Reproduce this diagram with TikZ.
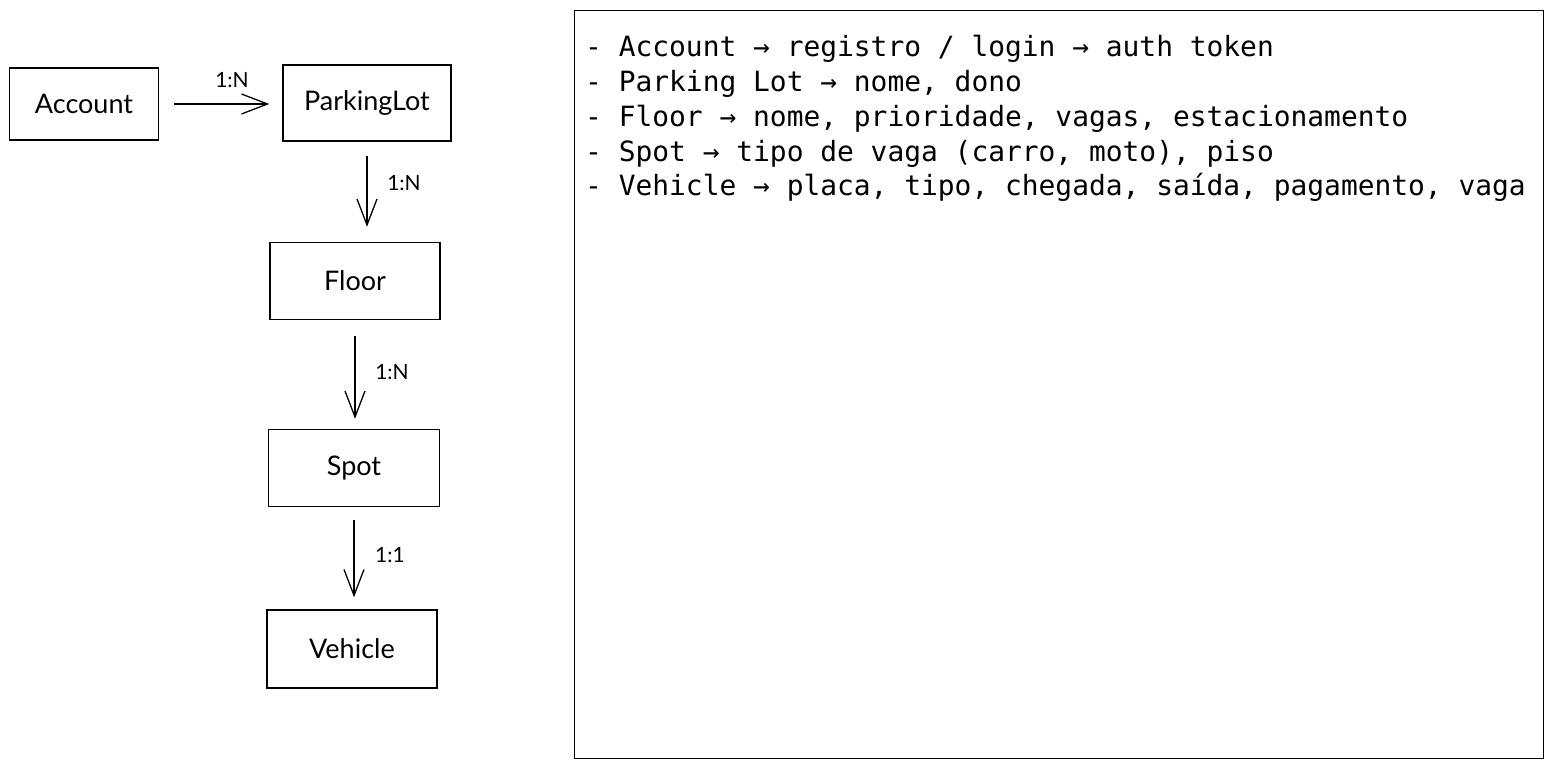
\documentclass[tikz,border=0pt]{standalone}
\usepackage{fontspec}
\setmainfont{Lato}
\newfontfamily\notesfont{DejaVu Sans Mono}
\usetikzlibrary{arrows.meta}

\tikzset{
  entity/.style={draw, line width=1.4pt, minimum width=170pt, minimum height=77pt, font=\fontsize{27}{30}\selectfont},
  rel/.style={-{Straight Barb[length=26pt,width=20pt,line width=1.3pt]}, line width=1.3pt},
  card/.style={font=\fontsize{21}{24}\selectfont},
  noteline/.style={anchor=base west, inner sep=0pt, font=\notesfont\fontsize{27.9}{34}\selectfont},
}

\begin{document}
\begin{tikzpicture}[x=1pt, y=-1pt]
  \useasboundingbox (0,0) rectangle (1553,767);
  % entities
  \node[entity, minimum width=149pt, minimum height=72pt] (account) at (84,104) {Account};
  \node[entity, minimum width=168pt, minimum height=76pt] (lot) at (367,103) {ParkingLot};
  \node[entity] (floor) at (355,281) {Floor};
  \node[entity, minimum width=171pt] (spot) at (354,468) {Spot};
  \node[entity, minimum height=78pt] (vehicle) at (352,649) {Vehicle};
  % relations
  \draw[rel, shorten <=15pt, shorten >=13pt] (account.east) -- (account.east -| lot.west);
  \draw[rel, shorten <=14pt, shorten >=15pt] (lot.south) -- (lot.south |- floor.north);
  \draw[rel, shorten <=16pt, shorten >=10pt] (floor.south) -- (floor.south |- spot.north);
  \draw[rel, shorten <=13pt, shorten >=12pt] (spot.south) -- (spot.south |- vehicle.north);
  \node[card] (c1) at (232,80) {1:N};
  \node[card] (c2) at (404,183) {1:N};
  \node[card] (c3) at (392,372) {1:N};
  \node[card] (c4) at (390,555) {1:1};
  % notes
  \node[draw, line width=1.4pt, anchor=north west, minimum width=969pt, minimum height=748pt] (notes) at (574,10) {};
  \foreach \txt [count=\i] in {{- Account → registro / login → auth token},
      {- Parking Lot → nome, dono},
      {- Floor → nome, prioridade, vagas, estacionamento},
      {- Spot → tipo de vaga (carro, moto), piso},
      {- Vehicle → placa, tipo, chegada, saída, pagamento, vaga}}
    \node[noteline] (line\i) at (585,{57+34.75*(\i-1)}) {\txt};
\end{tikzpicture}
\end{document}
